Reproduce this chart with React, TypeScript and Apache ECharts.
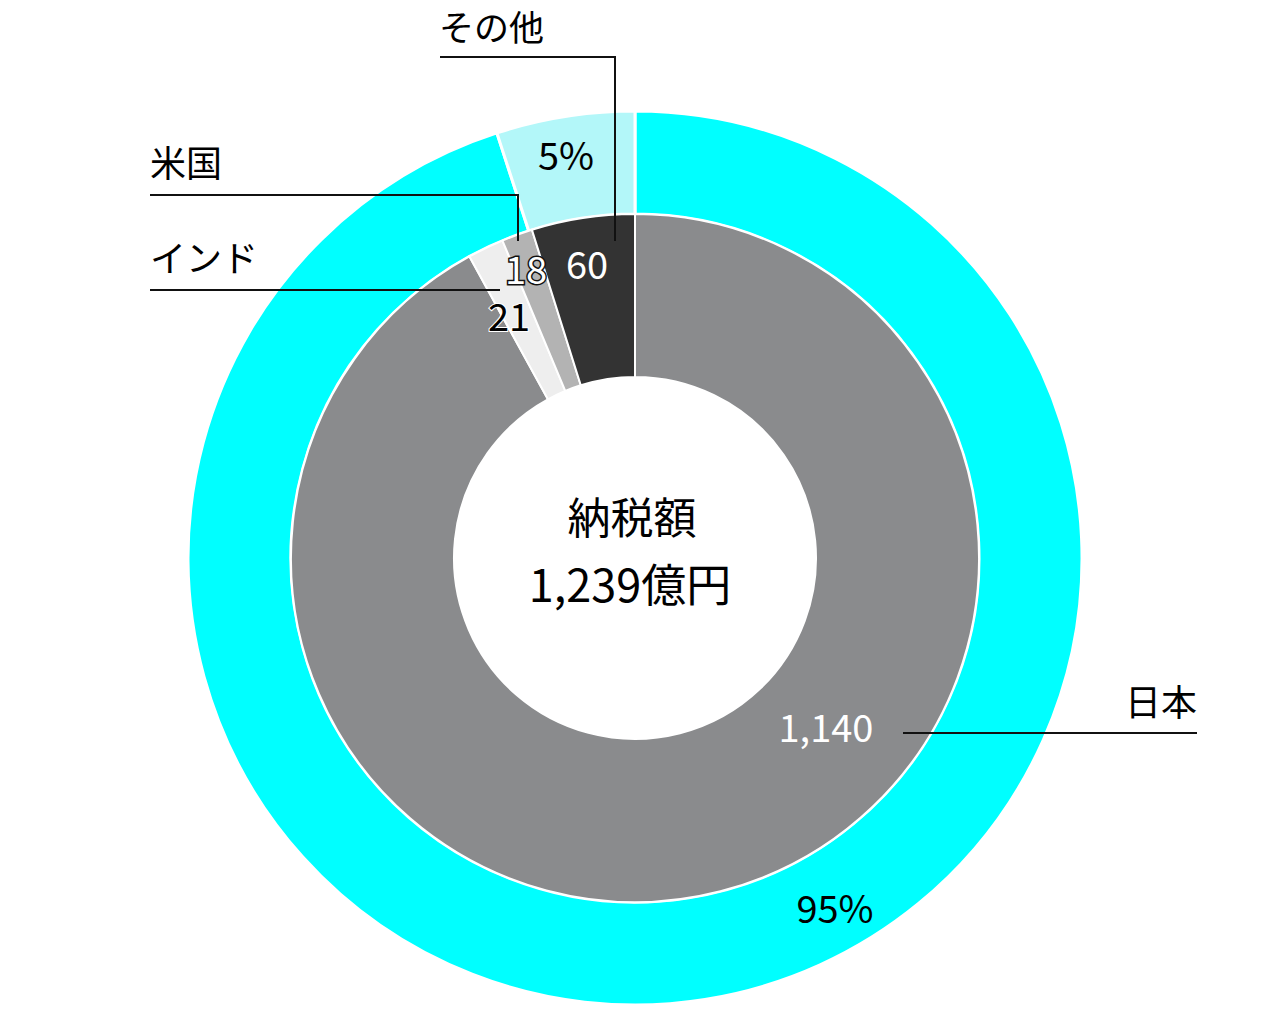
import React, { useEffect, useRef } from "react";
import * as echarts from "echarts";

// 納税額の内訳
const regions = ["日本", "インド", "米国", "その他"];
const taxValues = [1140, 21, 18, 60];
const shareNames = ["日本", "その他"];
const shareValues = [95, 5];
const centerTitle = "納税額";
const unit = "億円";

const FONT = "'Noto Sans CJK JP', 'Noto Sans', sans-serif";

// label placement (pixels)
const valueLabelPos = [
  [826, 725],
  [509, 314],
  [526, 267],
  [587, 262],
];
const shareLabelPos = [
  [835, 906],
  [566, 153],
];
const leaders = [
  { points: [[903, 733], [1197, 733]], text: [1197, 700], align: "right", base: "middle", size: 36 },
  { points: [[150, 290], [500, 290]], text: [150, 256], align: "left", base: "middle", size: 36 },
  { points: [[150, 195], [518, 195], [518, 241]], text: [150, 161], align: "left", base: "middle", size: 36 },
  { points: [[440, 57], [615, 57], [615, 241]], text: [439, 8], align: "left", base: "top", size: 35 },
];

const innerColors = ["#8a8b8d", "#eeeeee", "#b3b3b3", "#333333"];
const innerLabelStyles = [
  { color: "#ffffff" },
  { color: "#000000", textBorderColor: "#ffffff", textBorderWidth: 2 },
  { color: "#ffffff", textBorderColor: "#111111", textBorderWidth: 3 },
  { color: "#ffffff" },
];
const outerColors = ["#00ffff", "#b3f7f9"];

const App: React.FC = () => {
  const chartRef = useRef<HTMLDivElement | null>(null);

  useEffect(() => {
    document.body.style.margin = "0";
    if (!chartRef.current) return;
    const chart = echarts.init(chartRef.current, null, { renderer: "svg" });

    const total = taxValues.reduce((a, b) => a + b, 0);

    const graphics: any[] = [];
    leaders.forEach((l, i) => {
      graphics.push({
        type: "polyline",
        shape: { points: l.points },
        style: { stroke: "#111", lineWidth: 2, fill: null },
        silent: true,
        z: 10,
      });
      graphics.push({
        type: "text",
        x: l.text[0],
        y: l.text[1],
        style: {
          text: regions[i],
          font: `${l.size}px ${FONT}`,
          fill: "#000",
          align: l.align,
          verticalAlign: l.base,
        },
        silent: true,
        z: 10,
      });
    });
    graphics.push({
      type: "text",
      x: 632,
      y: 515,
      style: {
        text: centerTitle,
        font: `43px ${FONT}`,
        fill: "#000",
        align: "center",
        verticalAlign: "middle",
      },
    });
    graphics.push({
      type: "text",
      x: 630,
      y: 582,
      style: {
        text: total.toLocaleString("en-US") + unit,
        font: `45px ${FONT}`,
        fill: "#000",
        align: "center",
        verticalAlign: "middle",
      },
    });

    const option = {
      animation: false,
      backgroundColor: "#ffffff",
      graphic: graphics,
      series: [
        {
          type: "pie",
          silent: true,
          center: [635, 558],
          radius: [344, 447],
          startAngle: 90,
          clockwise: true,
          itemStyle: { borderColor: "#ffffff", borderWidth: 3 },
          data: shareNames.map((n, i) => ({
            name: n,
            value: shareValues[i],
            itemStyle: { color: outerColors[i] },
          })),
          label: {
            show: true,
            position: "inside",
            formatter: (p: any) => `${p.value}%`,
            fontFamily: FONT,
            fontSize: 38,
            color: "#000",
          },
          labelLine: { show: false },
          labelLayout: (p: any) => ({
            x: shareLabelPos[p.dataIndex][0],
            y: shareLabelPos[p.dataIndex][1],
            align: "center",
            verticalAlign: "middle",
          }),
        },
        {
          type: "pie",
          silent: true,
          center: [635, 558],
          radius: [181, 344],
          startAngle: 90,
          clockwise: true,
          itemStyle: { borderColor: "#ffffff", borderWidth: 2 },
          data: regions.map((n, i) => ({
            name: n,
            value: taxValues[i],
            itemStyle: { color: innerColors[i] },
            label: innerLabelStyles[i],
          })),
          label: {
            show: true,
            position: "inside",
            formatter: (p: any) => p.value.toLocaleString("en-US"),
            fontFamily: FONT,
            fontSize: 38,
          },
          labelLine: { show: false },
          labelLayout: (p: any) => ({
            x: valueLabelPos[p.dataIndex][0],
            y: valueLabelPos[p.dataIndex][1],
            align: "center",
            verticalAlign: "middle",
          }),
        },
      ],
    };

    chart.setOption(option);
    return () => {
      chart.dispose();
    };
  }, []);

  return <div ref={chartRef} style={{ width: "1280px", height: "1010px" }} />;
};

export default App;
